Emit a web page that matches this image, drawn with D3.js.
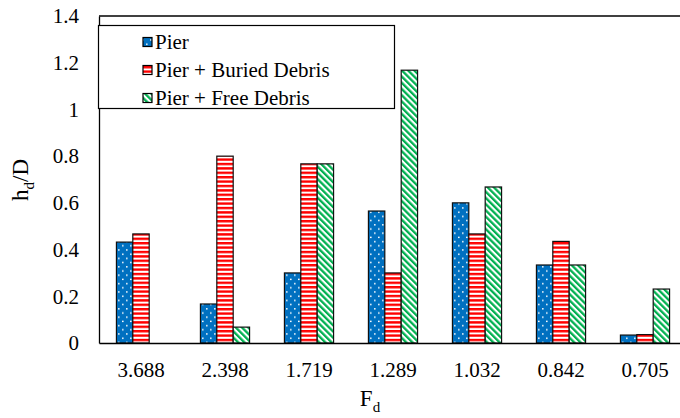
<!DOCTYPE html>
<html><head><meta charset="utf-8">
<script src="https://cdn.jsdelivr.net/npm/d3@7"></script>
<style>body{margin:0;background:#fff}svg{display:block}</style>
</head><body>
<script>
const categories = ["3.688","2.398","1.719","1.289","1.032","0.842","0.705"];
const seriesNames = ["Pier","Pier + Buried Debris","Pier + Free Debris"];
const pier =   [0.432, 0.167, 0.300, 0.565, 0.600, 0.334, 0.034];
const buried = [0.467, 0.800, 0.767, 0.300, 0.467, 0.435, 0.036];
const free =   [0.000, 0.068, 0.767, 1.168, 0.668, 0.334, 0.231];
const yTicks = [0, 0.2, 0.4, 0.6, 0.8, 1, 1.2, 1.4];

const FONT = "'Liberation Serif', 'Times New Roman', serif";
const W = 680, H = 418;
const svg = d3.select("body").append("svg").attr("width", W).attr("height", H);
const defs = svg.append("defs");

// patterns
const pBlue = defs.append("pattern").attr("id","pBlue").attr("patternUnits","userSpaceOnUse")
  .attr("width",8).attr("height",8.4);
pBlue.append("rect").attr("width",8).attr("height",8.4).attr("fill","#0070C0");
pBlue.append("rect").attr("x",2).attr("y",1.5).attr("width",1.6).attr("height",1.4).attr("fill","#fff");
pBlue.append("rect").attr("x",6).attr("y",5.7).attr("width",1.6).attr("height",1.4).attr("fill","#fff");

const pRed = defs.append("pattern").attr("id","pRed").attr("patternUnits","userSpaceOnUse")
  .attr("width",8).attr("height",4.4);
pRed.append("rect").attr("width",8).attr("height",4.4).attr("fill","#fff");
pRed.append("rect").attr("y",0).attr("width",8).attr("height",2.4).attr("fill","#FF0000");

const pGreen = defs.append("pattern").attr("id","pGreen").attr("patternUnits","userSpaceOnUse")
  .attr("width",4.4).attr("height",4.4).attr("patternTransform","rotate(-45)");
pGreen.append("rect").attr("width",4.4).attr("height",4.4).attr("fill","#fff");
pGreen.append("rect").attr("width",2.3).attr("height",4.4).attr("fill","#00B050");

const fills = ["url(#pBlue)","url(#pRed)","url(#pGreen)"];
const seriesData = [pier, buried, free];

const m = {left: 99, right: 687, top: 16, bottom: 343};
const x = d3.scaleBand().domain(categories).range([m.left, m.right]).paddingInner(0).paddingOuter(0);
const groupW = x.bandwidth() * 0.585;
const xs = d3.scaleBand().domain(d3.range(3)).range([0, groupW]).padding(0);
const y = d3.scaleLinear().domain([0, 1.4]).range([m.bottom, m.top]);

// bars
seriesData.forEach((vals, si) => {
  svg.append("g").selectAll("rect").data(vals.map((v,i)=>({v, c: categories[i]})).filter(d=>d.v>0))
    .join("rect")
    .attr("x", d => x(d.c) + (x.bandwidth()-groupW)/2 + xs(si))
    .attr("y", d => y(d.v))
    .attr("width", xs.bandwidth())
    .attr("height", d => y(0) - y(d.v))
    .attr("fill", fills[si])
    .attr("stroke", "#111").attr("stroke-width", 1.2);
});

// axes
const yAxis = svg.append("g").attr("transform", `translate(${m.left},0)`)
  .call(d3.axisLeft(y).tickValues(yTicks).tickSize(0).tickPadding(20).tickFormat(d => String(+d.toFixed(1))));
yAxis.select(".domain").attr("stroke","#000").attr("stroke-width",1.3);
yAxis.selectAll("text").style("font-size","21px");

const xAxis = svg.append("g").attr("transform", `translate(0,${m.bottom})`)
  .call(d3.axisBottom(x).tickSize(0).tickPadding(19));
xAxis.select(".domain").attr("stroke","#000").attr("stroke-width",1.3);
xAxis.selectAll("text").style("font-size","21px");

// top border
svg.append("line").attr("x1",m.left).attr("x2",W).attr("y1",m.top).attr("y2",m.top)
  .attr("stroke","#000").attr("stroke-width",1.3);

// axis titles
const yt = svg.append("text").attr("transform","translate(28,180) rotate(-90)")
  .attr("text-anchor","middle").style("font-size","23px");
yt.append("tspan").text("h");
yt.append("tspan").attr("dy",6).style("font-size","15px").text("d");
yt.append("tspan").attr("dy",-6).text("/D");

const xt = svg.append("text").attr("x",370).attr("y",406).attr("text-anchor","middle").style("font-size","23px");
xt.append("tspan").text("F");
xt.append("tspan").attr("dy",6).style("font-size","15px").text("d");

// legend
const lg = svg.append("g");
lg.append("rect").attr("x",98.5).attr("y",25.5).attr("width",296).attr("height",83)
  .attr("fill","#fff").attr("stroke","#000").attr("stroke-width",1.2);
seriesNames.forEach((n,i) => {
  const cy = 42 + i*28;
  lg.append("rect").attr("x",143).attr("y",cy-4.5).attr("width",9).attr("height",9)
    .attr("fill",fills[i]).attr("stroke","#000").attr("stroke-width",1.2);
  lg.append("text").attr("x",155).attr("y",cy).attr("dy","0.35em").style("font-size","21px").text(n);
});

svg.selectAll("text").style("font-family", FONT).attr("fill", "#000");
</script>
</body></html>
